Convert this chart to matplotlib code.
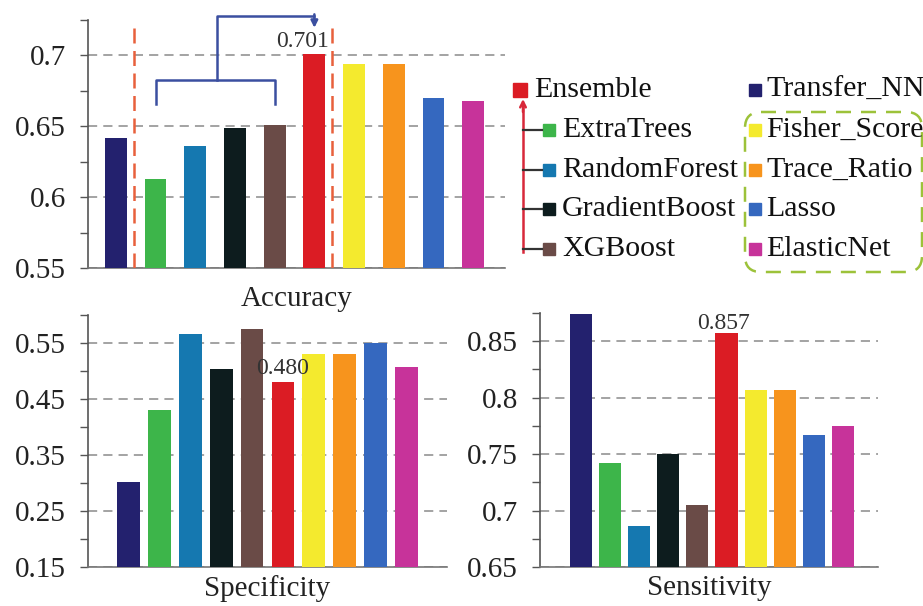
import matplotlib
matplotlib.use("Agg")
import matplotlib.pyplot as plt
from matplotlib.patches import FancyBboxPatch, Rectangle
from matplotlib.ticker import FixedLocator, FuncFormatter
import numpy as np

plt.rcParams['font.family'] = ['Liberation Serif', 'DejaVu Serif']

models = ['Transfer_NN', 'ExtraTrees', 'RandomForest', 'GradientBoost', 'XGBoost',
          'Ensemble', 'Fisher_Score', 'Trace_Ratio', 'Lasso', 'ElasticNet']
colors = ['#23216e', '#3db54a', '#1578b0', '#0d1c1e', '#6a4b47',
          '#db1c24', '#f4ea2e', '#f7941d', '#3568bf', '#c7339a']

accuracy = [0.642, 0.613, 0.636, 0.649, 0.651, 0.701, 0.694, 0.694, 0.670, 0.668]
specificity = [0.301, 0.431, 0.566, 0.504, 0.575, 0.480, 0.530, 0.530, 0.550, 0.507]
sensitivity = [0.874, 0.742, 0.686, 0.750, 0.705, 0.857, 0.807, 0.807, 0.767, 0.775]

W, H = 923, 606
fig = plt.figure(figsize=(W / 100, H / 100), dpi=100)


def px_axes(left, top, right, bottom):
    return fig.add_axes([left / W, 1 - bottom / H, (right - left) / W, (bottom - top) / H])


def style(ax, vals, major, minor, ylim, xlim, label, width, lpad):
    x = np.arange(len(models))
    ax.bar(x, vals, width=width, color=colors, zorder=3)
    ax.set_ylim(*ylim)
    ax.set_xlim(*xlim)
    ax.yaxis.set_major_locator(FixedLocator(major))
    ax.yaxis.set_minor_locator(FixedLocator(minor))
    ax.yaxis.set_major_formatter(FuncFormatter(lambda v, p: f"{v:g}"))
    ax.tick_params(axis='y', which='both', direction='out', length=6, width=1,
                   color='#555555', labelsize=21, pad=10, labelcolor='#222222')
    ax.tick_params(axis='x', bottom=False, labelbottom=False)
    for s in ['top', 'right']:
        ax.spines[s].set_visible(False)
    ax.spines['left'].set_color('#555555')
    ax.spines['bottom'].set_color('#777777')
    ax.spines['left'].set_linewidth(1.2)
    ax.spines['bottom'].set_linewidth(1.2)
    ax.grid(axis='y', which='major', linestyle=(0, (6, 4)), color='#8a8a8a', linewidth=1.1, zorder=0)
    ax.set_xlabel(label, fontsize=21, labelpad=lpad, color='#222222')


ax_top = px_axes(88, 20, 505, 268)
ax_spec = px_axes(88, 315, 447, 567)
ax_sens = px_axes(540, 313, 878, 567)

style(ax_top, accuracy, [0.55, 0.6, 0.65, 0.7], [0.575, 0.625, 0.675, 0.725],
      (0.55, 0.725), (-0.7, 9.8), 'Accuracy', 0.55, 13)
style(ax_spec, specificity, [0.15, 0.25, 0.35, 0.45, 0.55], [0.2, 0.3, 0.4, 0.5, 0.6],
      (0.15, 0.6), (-1.3, 10.3), 'Specificity', 0.74, 6)
style(ax_sens, sensitivity, [0.65, 0.7, 0.75, 0.8, 0.85], [0.675, 0.725, 0.775, 0.825, 0.875],
      (0.65, 0.875), (-1.4, 10.2), 'Sensitivity', 0.76, 6)

# value labels for the ensemble
ax_top.text(4.7, accuracy[5] + 0.0012, f"{accuracy[5]:.3f}", ha='center', va='bottom', fontsize=17, color='#333333', zorder=5)
ax_spec.text(5, specificity[5] + 0.006, f"{specificity[5]:.3f}", ha='center', va='bottom', fontsize=17, color='#333333', zorder=5)
ax_sens.text(4.9, sensitivity[5] - 0.001, f"{sensitivity[5]:.3f}", ha='center', va='bottom', fontsize=17, color='#333333', zorder=5)

# red dashed separators around the tree models
for xv in [0.45, 5.45]:
    ax_top.axvline(xv, ymin=0, ymax=0.99, color='#e8603c', linestyle=(0, (6, 3)), linewidth=1.8, zorder=4)

# bracket joining tree models into the ensemble
bc = '#3b4fa0'
yb, yd = 0.6824, 0.666
ax_top.plot([1, 1, 4, 4], [yd, yb, yb, yd], color=bc, lw=1.8, zorder=4)
ax_top.plot([2.55, 2.55, 5.0], [yb, 0.728, 0.728], color=bc, lw=1.8, zorder=4, clip_on=False)
ax_top.annotate('', xy=(5.0, 0.7195), xytext=(5.0, 0.729), annotation_clip=False,
                arrowprops=dict(arrowstyle='-|>', color=bc, lw=1.8, mutation_scale=10,
                                shrinkA=0, shrinkB=0))

# legend drawn in pixel space
lg = fig.add_axes([0, 0, 1, 1], zorder=10)
lg.set_xlim(0, W)
lg.set_ylim(H, 0)
lg.axis('off')
lg.patch.set_alpha(0)

rows = [90, 130, 170, 209, 249]
left_items = [(5, 520, 14), (1, 549, 12), (2, 549, 12), (3, 549, 12), (4, 549, 12)]
for (idx, cx, sz), yy in zip(left_items, rows):
    lg.add_patch(Rectangle((cx - sz / 2, yy - sz / 2), sz, sz, color=colors[idx]))
    lg.text(cx + sz / 2 + 7, yy, models[idx], fontsize=21.5, va='center', ha='left', color='#111111')

right_items = [0, 6, 7, 8, 9]
for idx, yy in zip(right_items, rows):
    lg.add_patch(Rectangle((755 - 6, yy - 6), 12, 12, color=colors[idx]))
    lg.text(766, yy, models[idx], fontsize=21.5, va='center', ha='left', color='#111111')

# red arrow from tree models up to ensemble
lg.plot([523, 523], [252, 106], color='#d8283a', lw=1.8)
lg.annotate('', xy=(523, 99), xytext=(523, 112),
            arrowprops=dict(arrowstyle='->', color='#d8283a', lw=1.8, shrinkA=0, shrinkB=0))
for yy in rows[1:]:
    lg.plot([523, 542], [yy, yy], color='#333333', lw=1.6)

# green dashed box around feature-selection models
lg.add_patch(FancyBboxPatch((745, 112), 177, 160, boxstyle='round,pad=0,rounding_size=16',
                            fill=False, edgecolor='#9cc23a', linestyle=(0, (6, 4)), lw=1.8,
                            clip_on=False))

fig.savefig('out.png', dpi=100)
